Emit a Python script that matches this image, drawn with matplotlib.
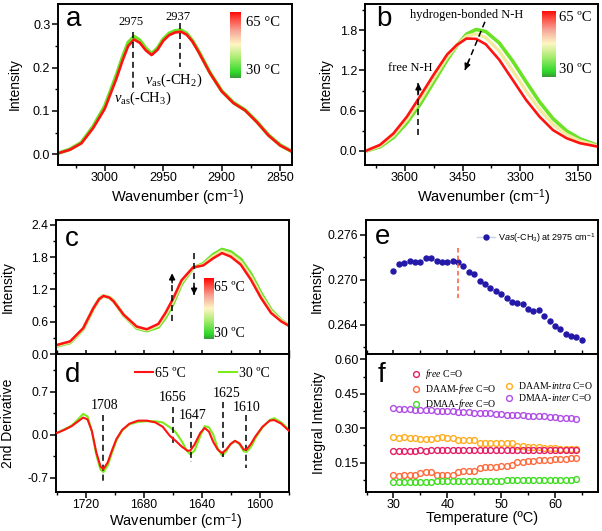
import numpy as np
import matplotlib
matplotlib.use('Agg')
import matplotlib.pyplot as plt
from matplotlib.colors import LinearSegmentedColormap
from matplotlib.lines import Line2D
from matplotlib.ticker import MultipleLocator, FormatStrFormatter

plt.rcParams['font.family'] = ['Liberation Sans', 'DejaVu Sans']
plt.rcParams['mathtext.fontset'] = 'custom'
plt.rcParams['mathtext.rm'] = 'Liberation Serif'
plt.rcParams['mathtext.it'] = 'Liberation Serif:italic'
plt.rcParams['mathtext.sf'] = 'Liberation Sans'
plt.rcParams['mathtext.bf'] = 'Liberation Sans:italic'

SERIF = ['Liberation Serif', 'DejaVu Serif']

# ---------------- data ----------------
# panel a: C-H stretching region
wn_a = [3040, 3030, 3020, 3010, 3000, 2990, 2985, 2980, 2975, 2970, 2965, 2960, 2955, 2950,
        2945, 2940, 2935, 2930, 2925, 2920, 2910, 2900, 2890, 2880, 2870, 2860, 2850, 2840]
a_30 = [0.002, 0.011, 0.027, 0.064, 0.111, 0.183, 0.223, 0.258, 0.272, 0.263, 0.245, 0.232,
        0.245, 0.266, 0.279, 0.285, 0.287, 0.279, 0.262, 0.239, 0.188, 0.146, 0.119, 0.102,
        0.075, 0.044, 0.021, 0.006]
a_65 = [0.002, 0.010, 0.025, 0.060, 0.105, 0.175, 0.215, 0.250, 0.265, 0.257, 0.240, 0.229,
        0.241, 0.262, 0.275, 0.281, 0.283, 0.276, 0.260, 0.237, 0.187, 0.145, 0.118, 0.101,
        0.074, 0.043, 0.020, 0.006]

# panel b: N-H stretching region
wn_b = [3700, 3665, 3630, 3595, 3560, 3525, 3490, 3465, 3440, 3415, 3390, 3355,
        3320, 3285, 3250, 3215, 3180, 3145, 3100]
b_30 = [0.0, 0.06, 0.20, 0.42, 0.70, 1.03, 1.36, 1.57, 1.74, 1.81, 1.78, 1.61,
        1.34, 1.03, 0.73, 0.48, 0.30, 0.18, 0.085]
b_47 = [0.003, 0.075, 0.23, 0.465, 0.76, 1.085, 1.40, 1.575, 1.71, 1.745, 1.69, 1.49,
        1.20, 0.895, 0.62, 0.395, 0.245, 0.148, 0.075]
b_65 = [0.005, 0.09, 0.26, 0.51, 0.82, 1.14, 1.44, 1.58, 1.675, 1.67, 1.59, 1.36,
        1.06, 0.76, 0.51, 0.31, 0.19, 0.115, 0.065]

# panel c: C=O region
wn_c = [1740, 1731, 1722, 1715, 1711, 1708, 1704, 1701, 1694, 1685, 1678, 1670, 1665, 1660,
        1654, 1646, 1639, 1632, 1626, 1620, 1613, 1606, 1599, 1592, 1585, 1580]
c_30 = [0.15, 0.21, 0.46, 0.84, 1.02, 1.08, 1.05, 0.99, 0.72, 0.48, 0.43, 0.50, 0.68, 0.92,
        1.30, 1.60, 1.68, 1.85, 1.945, 1.90, 1.76, 1.49, 1.13, 0.82, 0.63, 0.53]
c_47 = [0.16, 0.222, 0.47, 0.845, 1.02, 1.08, 1.05, 0.985, 0.725, 0.495, 0.445, 0.53, 0.725,
        0.97, 1.335, 1.605, 1.66, 1.815, 1.91, 1.855, 1.71, 1.435, 1.085, 0.79, 0.618, 0.53]
c_65 = [0.17, 0.235, 0.48, 0.85, 1.02, 1.08, 1.05, 0.98, 0.73, 0.51, 0.46, 0.56, 0.77, 1.02,
        1.37, 1.61, 1.645, 1.78, 1.875, 1.81, 1.66, 1.38, 1.04, 0.76, 0.605, 0.53]

# panel d: second derivative
wn_d = [1740, 1735, 1730, 1726, 1722, 1719, 1716, 1713, 1710, 1708, 1705, 1702, 1699,
        1695, 1690, 1684, 1678, 1672, 1667, 1662, 1658, 1654, 1650, 1648, 1645, 1641,
        1638, 1635, 1632, 1629, 1626, 1623, 1620, 1617, 1614, 1611, 1609, 1606, 1603,
        1598, 1593, 1590, 1585, 1580]
d_65 = [0.03, 0.08, 0.14, 0.21, 0.28, 0.25, 0.06, -0.28, -0.52, -0.56, -0.45, -0.25, -0.07,
        0.08, 0.18, 0.23, 0.23, 0.20, 0.13, -0.02, -0.10, -0.19, -0.26, -0.26, -0.16, 0.03,
        0.11, 0.05, -0.12, -0.24, -0.30, -0.24, -0.15, -0.10, -0.14, -0.24, -0.24, -0.15, -0.03,
        0.13, 0.23, 0.24, 0.18, 0.07]
d_30 = [0.03, 0.09, 0.15, 0.24, 0.34, 0.30, 0.06, -0.32, -0.57, -0.61, -0.50, -0.29, -0.09,
        0.07, 0.17, 0.21, 0.22, 0.22, 0.20, 0.12, 0.04, -0.10, -0.27, -0.32, -0.26, -0.02,
        0.14, 0.12, 0.0, -0.22, -0.34, -0.27, -0.15, -0.10, -0.15, -0.27, -0.28, -0.20, -0.06,
        0.12, 0.24, 0.27, 0.20, 0.09]

# panel e: intensity at 2975 cm-1 vs temperature
temp_e = list(range(30, 66))
int_e = [0.2712, 0.2721, 0.2722, 0.27257, 0.2724, 0.27244, 0.2729, 0.27293, 0.27253,
         0.2724, 0.2724, 0.27249, 0.2724, 0.27183, 0.27103, 0.2708, 0.26987, 0.26947,
         0.26897, 0.26853, 0.26813, 0.2676, 0.26707, 0.2669, 0.26676, 0.26617, 0.26587,
         0.26596, 0.2652, 0.26449, 0.2639, 0.26343, 0.26284, 0.26253, 0.26231, 0.262]

# panel f: integral intensities of C=O components
temp_f = list(range(30, 65))
f_free = [0.201, 0.202, 0.202, 0.202, 0.202, 0.203, 0.202, 0.203, 0.203, 0.203, 0.203, 0.203,
          0.203, 0.204, 0.203, 0.204, 0.204, 0.204, 0.204, 0.204, 0.204, 0.204, 0.205, 0.204,
          0.205, 0.205, 0.205, 0.205, 0.205, 0.205, 0.205, 0.205, 0.205, 0.206, 0.205]
f_daam_free = [0.094, 0.091, 0.094, 0.094, 0.097, 0.104, 0.1085, 0.1085, 0.094, 0.094, 0.097,
               0.097, 0.1085, 0.1115, 0.1115, 0.1115, 0.126, 0.130, 0.130, 0.133, 0.135, 0.135,
               0.138, 0.152, 0.152, 0.155, 0.158, 0.160, 0.161, 0.1625, 0.164, 0.165, 0.167,
               0.168, 0.168]
f_daam_intra = [0.260, 0.259, 0.260, 0.259, 0.258, 0.252, 0.251, 0.253, 0.259, 0.260, 0.259,
                0.257, 0.249, 0.248, 0.249, 0.248, 0.236, 0.235, 0.236, 0.235, 0.234, 0.235,
                0.234, 0.222, 0.221, 0.220, 0.219, 0.218, 0.214, 0.213, 0.212, 0.211, 0.210,
                0.209, 0.209]
f_dmaa_free = [0.064, 0.064, 0.065, 0.065, 0.065, 0.065, 0.065, 0.066, 0.069, 0.069, 0.070,
               0.070, 0.070, 0.071, 0.071, 0.071, 0.071, 0.072, 0.072, 0.072, 0.072, 0.073,
               0.073, 0.073, 0.073, 0.074, 0.074, 0.074, 0.074, 0.075, 0.075, 0.075, 0.076,
               0.076, 0.077]
f_dmaa_inter = [0.386, 0.384, 0.383, 0.383, 0.381, 0.380, 0.380, 0.378, 0.377, 0.375, 0.374,
                0.374, 0.372, 0.371, 0.370, 0.368, 0.367, 0.365, 0.364, 0.362, 0.361, 0.359,
                0.358, 0.358, 0.356, 0.355, 0.354, 0.352, 0.351, 0.349, 0.348, 0.346, 0.345,
                0.343, 0.342]

# ---------------- style ----------------
cmap = LinearSegmentedColormap.from_list('tg', [
    (0.0, '#3a9a3a'), (0.08, '#2ed82a'), (0.3, '#a8ec70'), (0.5, '#fff6c4'),
    (0.7, '#f6a89a'), (0.88, '#ff4a40'), (1.0, '#ff0000')])
C30 = '#6ae226'
C47 = '#f2eaa0'
C65 = '#ff1212'


def style(ax, tsize=9):
    for s in ax.spines.values():
        s.set_linewidth(1.4)
    ax.tick_params(which='major', direction='out', length=4, width=1.1, labelsize=tsize, pad=1.5)
    ax.tick_params(which='minor', direction='out', length=2.5, width=1.0)
    ax.tick_params(axis='x', which='major', pad=1.2)


def colorbar(ax, rect, top_label, bot_label, top_xy, bot_xy, size=10.5):
    cax = ax.inset_axes(rect)
    cax.imshow(np.linspace(0, 1, 256)[:, None], aspect='auto', cmap=cmap, origin='lower')
    cax.set_axis_off()
    ax.text(top_xy[0], top_xy[1], top_label, transform=ax.transAxes, ha='left', va='center',
            family=SERIF, size=size)
    ax.text(bot_xy[0], bot_xy[1], bot_label, transform=ax.transAxes, ha='left', va='center',
            family=SERIF, size=size)


def dline(ax, x0, y0, x1, y1, **kw):
    ax.plot([x0, x1], [y0, y1], color='k', lw=1.1, ls=(0, (4, 2.5)), **kw)


def darrow(ax, x0, y0, x1, y1):
    dline(ax, x0, y0, x1, y1)
    ax.annotate('', xy=(x1, y1), xytext=(x0 + (x1 - x0) * 0.8, y0 + (y1 - y0) * 0.8),
                arrowprops=dict(arrowstyle='-|>', color='k', lw=1.0, mutation_scale=9,
                                shrinkA=0, shrinkB=0))


def panel_letter(ax, x, y, s):
    ax.text(x, y, s, transform=ax.transAxes, ha='left', va='baseline', size=20)


fig = plt.figure(figsize=(6.02, 5.31), dpi=100)
ax_a = fig.add_axes([0.0963, 0.6893, 0.3887, 0.3032])
ax_b = fig.add_axes([0.6063, 0.6893, 0.3870, 0.3032])
ax_c = fig.add_axes([0.0930, 0.3333, 0.3870, 0.2524])
ax_d = fig.add_axes([0.0930, 0.0734, 0.3870, 0.2599])
ax_e = fig.add_axes([0.6080, 0.3333, 0.3854, 0.2524])
ax_f = fig.add_axes([0.6080, 0.0734, 0.3854, 0.2599])

XL = r'Wavenumber (cm$^{\mathsf{-1}}$)'

# ---- a ----
ax = ax_a
style(ax)
ax.plot(wn_a, a_30, color=C30, lw=2.6)
ax.plot(wn_a, a_65, color=C65, lw=1.9)
ax.set_xlim(3040, 2840)
ax.set_ylim(-0.025, 0.347)
ax.xaxis.set_major_locator(MultipleLocator(50))
ax.xaxis.set_minor_locator(MultipleLocator(25))
ax.yaxis.set_major_locator(MultipleLocator(0.1))
ax.yaxis.set_minor_locator(MultipleLocator(0.05))
ax.yaxis.set_major_formatter(FormatStrFormatter('%.1f'))
ax.set_xlabel(XL, fontsize=10.5)
ax.set_ylabel('Intensity', fontsize=10)
ax.xaxis.set_label_coords(0.51, -0.135)
ax.yaxis.set_label_coords(-0.155, 0.5)
dline(ax, 2976, 0.283, 2976, 0.152)
dline(ax, 2936, 0.302, 2936, 0.202)
ax.text(2978, 0.306, '2975', ha='center', va='center', family=SERIF, size=9)
ax.text(2937, 0.318, '2937', ha='center', va='center', family=SERIF, size=9)
ax.text(2941.5, 0.171, r'$v_{\mathrm{as}}$(-CH$_2$)', ha='center', va='center', family=SERIF, size=10.5)
ax.text(2967.5, 0.129, r'$v_{\mathrm{as}}$(-CH$_3$)', ha='center', va='center', family=SERIF, size=10.5)
colorbar(ax, [0.735, 0.54, 0.047, 0.41], '65 °C', '30 °C', (0.805, 0.882), (0.805, 0.584))
panel_letter(ax, 0.035, 0.863, 'a')

# ---- b ----
ax = ax_b
style(ax)
ax.plot(wn_b, b_30, color=C30, lw=2.6)
ax.plot(wn_b, b_47, color=C47, lw=2.4)
ax.plot(wn_b, b_65, color=C65, lw=1.9)
ax.set_xlim(3704, 3098)
ax.set_ylim(-0.21, 2.19)
ax.xaxis.set_major_locator(MultipleLocator(150))
ax.xaxis.set_minor_locator(MultipleLocator(75))
ax.yaxis.set_major_locator(MultipleLocator(0.6))
ax.yaxis.set_minor_locator(MultipleLocator(0.3))
ax.yaxis.set_major_formatter(FormatStrFormatter('%.1f'))
ax.set_xlabel(XL, fontsize=10.5)
ax.set_ylabel('Intensity', fontsize=10)
ax.xaxis.set_label_coords(0.508, -0.135)
ax.yaxis.set_label_coords(-0.14, 0.5)
ax.text(3440, 2.025, 'hydrogen-bonded N-H', ha='center', va='center', family=SERIF, size=9)
darrow(ax, 3392, 1.925, 3444, 1.206)
ax.text(3587, 1.231, 'free N-H', ha='center', va='center', family=SERIF, size=9)
darrow(ax, 3565, 0.238, 3565, 1.008)
colorbar(ax, [0.76, 0.547, 0.06, 0.41], '65 ºC', '30 ºC', (0.832, 0.913), (0.832, 0.59))
panel_letter(ax, 0.05, 0.863, 'b')

# ---- c ----
ax = ax_c
style(ax, 8.7)
ax.plot(wn_c, c_30, color=C30, lw=2.4)
ax.plot(wn_c, c_47, color=C47, lw=2.2)
ax.plot(wn_c, c_65, color=C65, lw=1.8)
ax.set_xlim(1740.8, 1579.7)
ax.set_ylim(0, 2.49)
ax.xaxis.set_major_locator(MultipleLocator(40))
ax.xaxis.set_minor_locator(MultipleLocator(20))
ax.yaxis.set_major_locator(MultipleLocator(0.6))
ax.yaxis.set_minor_locator(MultipleLocator(0.3))
ax.yaxis.set_major_formatter(FormatStrFormatter('%.1f'))
ax.tick_params(axis='x', which='both', direction='inout', labelbottom=False, length=6)
ax.set_ylabel('Intensity', fontsize=10)
ax.yaxis.set_label_coords(-0.176, 0.5)
darrow(ax, 1660.5, 0.605, 1660.5, 1.50)
darrow(ax, 1645.3, 1.875, 1645.3, 1.10)
colorbar(ax, [0.635, 0.112, 0.039, 0.455], '65 ºC', '30 ºC', (0.68, 0.50), (0.68, 0.15), size=10)
panel_letter(ax, 0.04, 0.806, 'c')

# ---- d ----
ax = ax_d
style(ax, 8.7)
ax.plot(wn_d, d_65, color=C65, lw=1.5, label='65 ºC', zorder=3)
ax.plot(wn_d, d_30, color='#7cec1c', lw=1.5, label='30 ºC', zorder=2)
ax.set_xlim(1740.8, 1579.7)
ax.set_ylim(-0.934, 1.316)
ax.xaxis.set_major_locator(MultipleLocator(40))
ax.xaxis.set_minor_locator(MultipleLocator(20))
ax.yaxis.set_major_locator(MultipleLocator(0.7))
ax.yaxis.set_minor_locator(MultipleLocator(0.35))
ax.yaxis.set_major_formatter(FormatStrFormatter('%.1f'))
ax.set_xlabel(XL, fontsize=10.5)
ax.set_ylabel('2nd Derivative', fontsize=10)
ax.xaxis.set_label_coords(0.514, -0.14)
ax.yaxis.set_label_coords(-0.176, 0.5)
ax.legend(loc='center left', bbox_to_anchor=(0.339, 0.862), ncol=2, frameon=False,
          prop={'family': SERIF, 'size': 10}, handlelength=1.3, handletextpad=0.15,
          columnspacing=2.4, borderpad=0, borderaxespad=0)
for x, y0, y1 in [(1708.6, 0.316, -0.75), (1660, 0.45, -0.175), (1647.3, 0.206, -0.45),
                  (1625.3, 0.533, -0.355), (1609.4, 0.316, -0.54)]:
    dline(ax, x, y0, x, y1)
for x, y, s in [(1707.3, 0.48, '1708'), (1660, 0.615, '1656'), (1646.1, 0.316, '1647'),
                (1622.6, 0.68, '1625'), (1608.7, 0.44, '1610')]:
    ax.text(x, y, s, ha='center', va='center', family=SERIF, size=10)
panel_letter(ax, 0.038, 0.80, 'd')

# ---- e ----
ax = ax_e
style(ax, 8.8)
ax.plot(temp_e, int_e, ls='none', marker='o', ms=3.6, color='#2418a8')
ax.set_xlim(24.9, 68)
ax.set_ylim(0.2601, 0.2780)
ax.xaxis.set_major_locator(MultipleLocator(10))
ax.xaxis.set_minor_locator(MultipleLocator(5))
ax.yaxis.set_major_locator(MultipleLocator(0.006))
ax.yaxis.set_minor_locator(MultipleLocator(0.003))
ax.yaxis.set_major_formatter(FormatStrFormatter('%.3f'))
ax.tick_params(axis='x', which='both', direction='inout', labelbottom=False, length=6)
ax.set_ylabel('Intensity', fontsize=10)
ax.yaxis.set_label_coords(-0.184, 0.5)
ax.plot([42, 42], [0.2743, 0.26756], color='#ff5a3c', ls=(0, (3, 2)), lw=1.1)
h_e = Line2D([], [], color='#c8d2ea', lw=1.0, marker='o', ms=3.6,
             markerfacecolor='#2418a8', markeredgecolor='#2418a8')
ax.legend([h_e], [r'V$\mathbf{as}$(-CH$_{\mathsf{3}}$) at 2975 cm$^{\mathsf{-1}}$'],
          loc='center left', bbox_to_anchor=(0.477, 0.868), frameon=False,
          prop={'size': 6.5}, handlelength=2.0, handletextpad=0.35, borderpad=0,
          borderaxespad=0)
panel_letter(ax, 0.038, 0.82, 'e')

# ---- f ----
ax = ax_f
style(ax)
ms = 4.2
series_f = [
    (f_dmaa_inter, '#b04ee6', r'DMAA-$\mathit{inter}$ C=O'),
    (f_daam_intra, '#ffad1e', r'DAAM-$\mathit{intra}$ C=O'),
    (f_daam_free, '#ff6a3c', r'DAAM-$\mathit{free}$ C=O'),
    (f_dmaa_free, '#40dc22', r'DMAA-$\mathit{free}$ C=O'),
    (f_free, '#e61e64', r'$\mathit{free}$ C=O'),
]
handles = {}
for vals, col, lab in series_f:
    h, = ax.plot(temp_f, vals, ls='none', marker='o', ms=ms, mfc='none', mec=col, mew=1.0,
                 label=lab)
    handles[lab] = h
blank = Line2D([], [], ls='none')
order = [r'$\mathit{free}$ C=O', r'DAAM-$\mathit{free}$ C=O', r'DMAA-$\mathit{free}$ C=O',
         None, r'DAAM-$\mathit{intra}$ C=O', r'DMAA-$\mathit{inter}$ C=O']
ax.legend([handles[k] if k else blank for k in order], [k if k else '' for k in order],
          ncol=2, loc='upper left', bbox_to_anchor=(0.193, 0.905), frameon=False,
          prop={'family': SERIF, 'size': 7}, handlelength=1.0, handletextpad=0.45,
          columnspacing=0.8, labelspacing=0.1, borderpad=0, borderaxespad=0)
ax.set_xlim(24.9, 68)
ax.set_ylim(0.022, 0.623)
ax.xaxis.set_major_locator(MultipleLocator(10))
ax.xaxis.set_minor_locator(MultipleLocator(5))
ax.yaxis.set_major_locator(MultipleLocator(0.15))
ax.yaxis.set_minor_locator(MultipleLocator(0.075))
ax.yaxis.set_major_formatter(FormatStrFormatter('%.2f'))
ax.set_xlabel('Temperature (ºC)', fontsize=10.5)
ax.set_ylabel('Integral Intensity', fontsize=10)
ax.xaxis.set_label_coords(0.499, -0.135)
ax.yaxis.set_label_coords(-0.174, 0.5)
panel_letter(ax, 0.05, 0.80, 'f')

fig.savefig('out.png', dpi=100)
